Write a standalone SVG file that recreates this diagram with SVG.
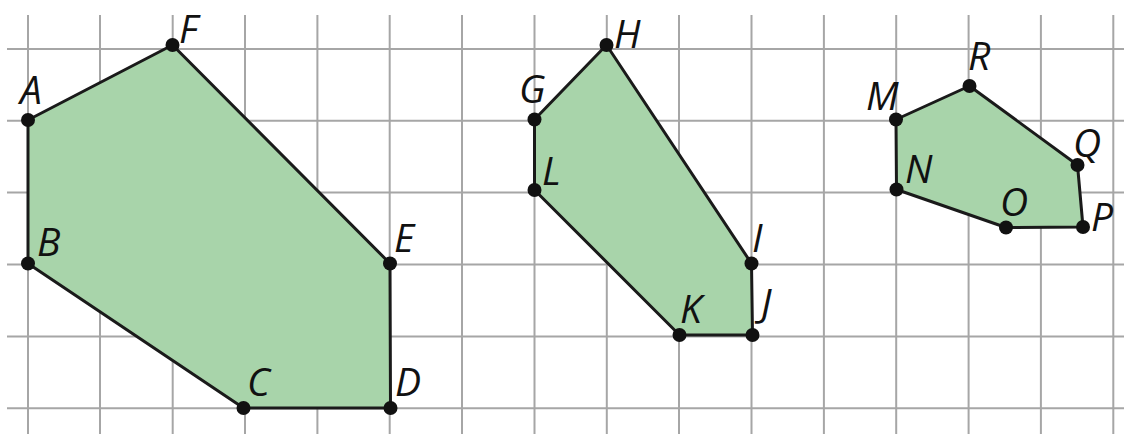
<svg xmlns="http://www.w3.org/2000/svg" width="1124" height="434" viewBox="0 0 1124 434">
<style>
.grid line{stroke:#a6a6a6;stroke-width:2}
.shape{fill:#a8d4aa;stroke:#1a1a1a;stroke-width:3;stroke-linejoin:round}
.pt{fill:#111}
.lbl{font-family:"Open Sans","Noto Sans",sans-serif;font-style:italic;font-size:39px;fill:#111}
</style>
<rect width="1124" height="434" fill="#fff"/>
<g class="grid" id="grid">
<line x1="7" y1="49" x2="1124" y2="49"/>
<line x1="7" y1="120.8" x2="1124" y2="120.8"/>
<line x1="7" y1="192.6" x2="1124" y2="192.6"/>
<line x1="7" y1="264.5" x2="1124" y2="264.5"/>
<line x1="7" y1="336.4" x2="1124" y2="336.4"/>
<line x1="7" y1="408.3" x2="1124" y2="408.3"/>
<line x1="28" y1="15" x2="28" y2="434"/>
<line x1="100" y1="15" x2="100" y2="434"/>
<line x1="172.7" y1="15" x2="172.7" y2="434"/>
<line x1="245" y1="15" x2="245" y2="434"/>
<line x1="317.4" y1="15" x2="317.4" y2="434"/>
<line x1="389.7" y1="15" x2="389.7" y2="434"/>
<line x1="462" y1="15" x2="462" y2="434"/>
<line x1="534.5" y1="15" x2="534.5" y2="434"/>
<line x1="606.8" y1="15" x2="606.8" y2="434"/>
<line x1="679" y1="15" x2="679" y2="434"/>
<line x1="751.5" y1="15" x2="751.5" y2="434"/>
<line x1="823.9" y1="15" x2="823.9" y2="434"/>
<line x1="896.2" y1="15" x2="896.2" y2="434"/>
<line x1="968.6" y1="15" x2="968.6" y2="434"/>
<line x1="1040.9" y1="15" x2="1040.9" y2="434"/>
<line x1="1113.3" y1="15" x2="1113.3" y2="434"/>
</g>
<g id="poly-ABCDEF">
<polygon class="shape" points="28,120 172.5,45 390,263.5 390.5,408 243.5,408 28,263.5"/>
</g>
<g id="poly-GHIJKL">
<polygon class="shape" points="534.5,119.5 606.5,45 751.5,263.5 752.5,335 679.5,335 534.5,190"/>
</g>
<g id="poly-MNOPQR">
<polygon class="shape" points="896,119.5 969.5,86 1077.5,165 1083,227 1006,227.5 896.5,189.5"/>
</g>
<g id="pt-A"><circle class="pt" cx="28" cy="120" r="7"/><text class="lbl" x="20" y="104">A</text></g>
<g id="pt-F"><circle class="pt" cx="172.5" cy="45" r="7"/><text class="lbl" x="179" y="43">F</text></g>
<g id="pt-E"><circle class="pt" cx="390" cy="263.5" r="7"/><text class="lbl" x="394" y="252">E</text></g>
<g id="pt-D"><circle class="pt" cx="390.5" cy="408" r="7"/><text class="lbl" x="395" y="396">D</text></g>
<g id="pt-C"><circle class="pt" cx="243.5" cy="408" r="7"/><text class="lbl" x="247" y="396">C</text></g>
<g id="pt-B"><circle class="pt" cx="28" cy="263.5" r="7"/><text class="lbl" x="37" y="256">B</text></g>
<g id="pt-G"><circle class="pt" cx="534.5" cy="119.5" r="7"/><text class="lbl" x="519" y="103">G</text></g>
<g id="pt-H"><circle class="pt" cx="606.5" cy="45" r="7"/><text class="lbl" x="614" y="48">H</text></g>
<g id="pt-I"><circle class="pt" cx="751.5" cy="263.5" r="7"/><text class="lbl" x="752" y="252">I</text></g>
<g id="pt-J"><circle class="pt" cx="752.5" cy="335" r="7"/><text class="lbl" x="761" y="317">J</text></g>
<g id="pt-K"><circle class="pt" cx="679.5" cy="335" r="7"/><text class="lbl" x="680" y="323">K</text></g>
<g id="pt-L"><circle class="pt" cx="534.5" cy="190" r="7"/><text class="lbl" x="542" y="185">L</text></g>
<g id="pt-M"><circle class="pt" cx="896" cy="119.5" r="7"/><text class="lbl" x="866" y="110">M</text></g>
<g id="pt-R"><circle class="pt" cx="969.5" cy="86" r="7"/><text class="lbl" x="968" y="70">R</text></g>
<g id="pt-Q"><circle class="pt" cx="1077.5" cy="165" r="7"/><text class="lbl" x="1073" y="157">Q</text></g>
<g id="pt-P"><circle class="pt" cx="1083" cy="227" r="7"/><text class="lbl" x="1091" y="231">P</text></g>
<g id="pt-O"><circle class="pt" cx="1006" cy="227.5" r="7"/><text class="lbl" x="1000" y="216">O</text></g>
<g id="pt-N"><circle class="pt" cx="896.5" cy="189.5" r="7"/><text class="lbl" x="905" y="183">N</text></g>
</svg>
